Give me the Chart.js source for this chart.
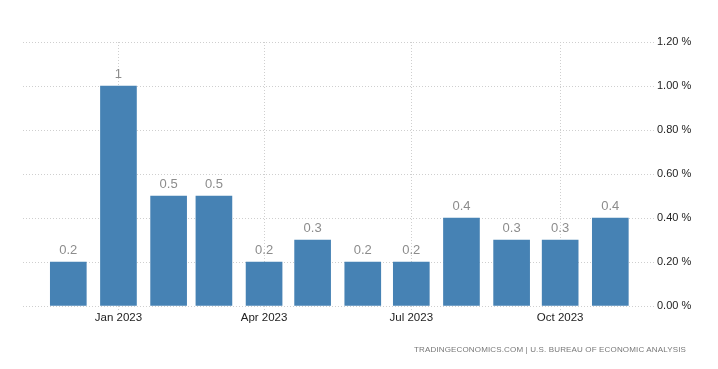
<!DOCTYPE html>
<html>
<head>
<meta charset="utf-8">
<script src="https://cdn.jsdelivr.net/npm/chart.js@4"></script>
<style>
  html, body { margin: 0; padding: 0; background: #fff; }
  #wrap { position: relative; width: 718px; height: 369px; }
  #source {
    position: absolute; right: 32px; top: 345px;
    font: 8px "Liberation Sans", Arial, sans-serif; color: #777;
    letter-spacing: 0.15px; white-space: nowrap;
  }
</style>
</head>
<body>
<div id="wrap">
  <canvas id="chart" width="718" height="369"></canvas>
  <div id="source">TRADINGECONOMICS.COM | U.S. BUREAU OF ECONOMIC ANALYSIS</div>
</div>
<script>
// monthly change, %
const months = ['2022-12', '2023-01', '2023-02', '2023-03', '2023-04', '2023-05',
                '2023-06', '2023-07', '2023-08', '2023-09', '2023-10', '2023-11'];
const values = [0.2, 1, 0.5, 0.5, 0.2, 0.3, 0.2, 0.2, 0.4, 0.3, 0.3, 0.4];
const tickMonths = ['2023-01', '2023-04', '2023-07', '2023-10'];
const tickLabels = ['Jan 2023', 'Apr 2023', 'Jul 2023', 'Oct 2023'];

// days since the first month, so bars sit on a time-like axis
const dayOf = m => {
  const [y, mo] = m.split('-').map(Number);
  return (Date.UTC(y, mo - 1, 1) - Date.UTC(2022, 11, 1)) / 86400000;
};
const points = months.map((m, i) => ({ x: dayOf(m), y: values[i] }));
const tickDays = tickMonths.map(dayOf);

const valueLabels = {
  id: 'valueLabels',
  afterDatasetsDraw(chart) {
    const ctx = chart.ctx;
    const meta = chart.getDatasetMeta(0);
    ctx.save();
    ctx.font = '13px "Liberation Sans", Arial, sans-serif';
    ctx.fillStyle = '#8c8c8c';
    ctx.textAlign = 'center';
    ctx.textBaseline = 'bottom';
    meta.data.forEach((bar, i) => {
      ctx.fillText(String(values[i]), bar.x, bar.y - 5);
    });
    ctx.restore();
  }
};

const gridColor = '#cfcfcf';

new Chart(document.getElementById('chart'), {
  type: 'bar',
  data: {
    datasets: [{
      data: points,
      backgroundColor: '#4682b4',
      barThickness: 36,
      borderWidth: 0
    }]
  },
  options: {
    responsive: false,
    animation: false,
    layout: { padding: { left: 23, top: 42, right: 0, bottom: 0 } },
    plugins: { legend: { display: false }, tooltip: { enabled: false } },
    scales: {
      x: {
        type: 'linear',
        offset: false,
        min: -28,
        max: 362,
        afterBuildTicks: scale => { scale.ticks = tickDays.map(v => ({ value: v })); },
        afterFit: scale => { scale.height = 63; },
        ticks: {
          autoSkip: false,
          maxRotation: 0,
          padding: 0,
          color: '#222',
          font: { family: '"Liberation Sans", Arial, sans-serif', size: 11.5 },
          callback: v => tickLabels[tickDays.indexOf(v)]
        },
        grid: {
          offset: false,
          color: gridColor,
          tickLength: 5,
          tickBorderDash: [1, 2]
        },
        border: { display: false, dash: [1, 2] }
      },
      y: {
        position: 'right',
        min: 0,
        max: 1.2,
        afterFit: scale => { scale.width = 64; },
        ticks: {
          stepSize: 0.2,
          padding: 3,
          color: '#222',
          font: { family: '"Liberation Sans", Arial, sans-serif', size: 11 },
          callback: v => v.toFixed(2) + ' %'
        },
        grid: { color: gridColor, drawTicks: false },
        border: { display: false, dash: [1, 2] }
      }
    }
  },
  plugins: [valueLabels]
});
</script>
</body>
</html>
